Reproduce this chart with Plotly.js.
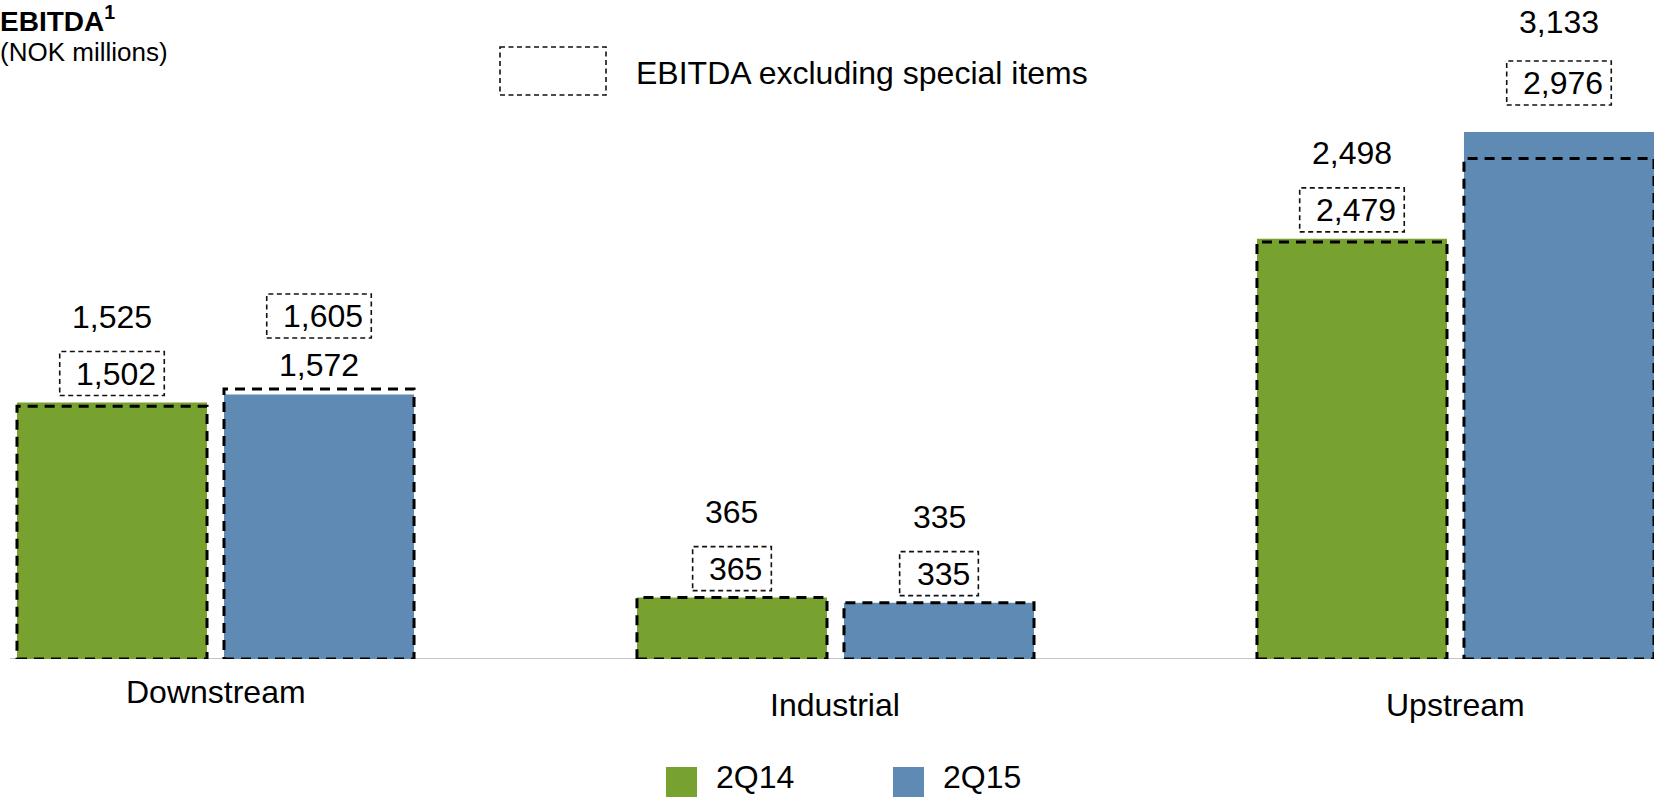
<!DOCTYPE html>
<html>
<head>
<meta charset="utf-8">
<script src="https://cdn.plot.ly/plotly-3.0.1.min.js"></script>
<style>html,body{margin:0;padding:0;background:#fff;}#chart{width:1654px;height:797px;}</style>
</head>
<body>
<div id="chart"></div>
<script>
// ---- data ----
const categories = ['Downstream', 'Industrial', 'Upstream'];
const seriesNames = ['2Q14', '2Q15'];
const ebitda2Q14 = [1525, 365, 2498];
const ebitda2Q15 = [1572, 335, 3133];
const exSpecial2Q14 = [1502, 365, 2479];
const exSpecial2Q15 = [1605, 335, 2976];
const titleText = 'EBITDA';
const subtitleText = '(NOK millions)';
const dashedLegendText = 'EBITDA excluding special items';

// ---- style ----
const FONT = '"Liberation Sans", Arial, Helvetica, sans-serif';
const colors = ['#78A22F', '#5E8AB4'];
const W = 1654, H = 797, PB = 659; // plot bottom in px
const barWidth = 0.3065;
const offsets = [-0.3202, 0.0137];
const catLabelDrop = [33, 46, 46];
const labelLift = [[0, 0, 0], [0, 0, -20]]; // manual label nudges (px)
const fs = 32;

const py = p => (PB - p) / PB;   // pixel y -> paper y
const px = p => p / W;           // pixel x -> paper x
const fmt = v => v.toLocaleString('en-US');
const textEm = s => s.split('').reduce((a, c) => a + (c === ',' ? 0.278 : 0.556), 0);

const ebitda = [ebitda2Q14, ebitda2Q15];
const exSpecial = [exSpecial2Q14, exSpecial2Q15];

const traces = seriesNames.map((name, s) => ({
  type: 'bar', name: name, x: categories, y: ebitda[s],
  width: barWidth, offset: offsets[s],
  marker: {color: colors[s], line: {width: 0}},
  hovertemplate: '%{x}<br>' + name + ': %{y:,}<extra></extra>'
}));

const shapes = [];
const annotations = [];

// baseline
shapes.push({type: 'line', xref: 'paper', yref: 'y', x0: px(10), x1: 1, y0: 0, y1: 0,
  line: {color: '#8c8c8c', width: 1.2}, layer: 'below'});

seriesNames.forEach((name, s) => {
  categories.forEach((cat, i) => {
    const v = ebitda[s][i], e = exSpecial[s][i];
    const x0 = i + offsets[s], x1 = x0 + barWidth, xc = (x0 + x1) / 2;
    // dashed outline for excl. special items
    shapes.push({type: 'rect', xref: 'x', yref: 'y', x0: x0, x1: x1, y0: 0, y1: e,
      line: {color: '#000', width: 3, dash: '10px,7px'}, fillcolor: 'rgba(0,0,0,0)', layer: 'above'});
    const top = Math.max(v, e);
    const nearIsBox = e <= v;
    const nearShift = nearIsBox ? 29 : 24;
    const farShift = nearIsBox ? 86 : 73;
    const lift = -labelLift[s][i];
    const boxShift = (nearIsBox ? nearShift : farShift) + lift;
    const txtShift = (nearIsBox ? farShift : nearShift) + lift + (s === 1 && i === 2 ? 4 : 0);
    // plain EBITDA label
    annotations.push({xref: 'x', yref: 'y', x: xc, y: top, yshift: txtShift, yanchor: 'middle', xanchor: 'center',
      text: fmt(v), showarrow: false, font: {family: FONT, size: fs, color: '#000'}});
    // boxed excl special label
    const bt = fmt(e);
    const bw = textEm(bt) * 31 + 27;
    annotations.push({xref: 'x', yref: 'y', x: xc, y: top, yshift: boxShift, xshift: 4, yanchor: 'middle', xanchor: 'center',
      text: bt, showarrow: false, font: {family: FONT, size: fs, color: '#000'}});
    shapes.push({type: 'rect', xref: 'x', yref: 'y', xsizemode: 'pixel', ysizemode: 'pixel',
      xanchor: xc, yanchor: top, x0: -bw / 2, x1: bw / 2, y0: boxShift - 22, y1: boxShift + 22,
      line: {color: '#111', width: 1.6, dash: '5px,3.5px'}, fillcolor: 'rgba(0,0,0,0)'});
  });
});

// category labels
categories.forEach((cat, i) => {
  annotations.push({xref: 'x', yref: 'paper', x: i, y: 0, yshift: -catLabelDrop[i], yanchor: 'middle',
    text: cat, showarrow: false, font: {family: FONT, size: fs, color: '#000'}});
});

// title + subtitle
annotations.push({xref: 'paper', yref: 'paper', x: 0, y: py(-1), xanchor: 'left', yanchor: 'top', xshift: -2,
  text: '<b>' + titleText + '<sup>1</sup></b>', showarrow: false, font: {family: FONT, size: 28, color: '#000'}});
annotations.push({xref: 'paper', yref: 'paper', x: 0, y: py(52), xanchor: 'left', yanchor: 'middle', xshift: -2,
  text: subtitleText, showarrow: false, font: {family: FONT, size: 26, color: '#000'}});

// dashed legend
shapes.push({type: 'rect', xref: 'paper', yref: 'paper', x0: px(500), x1: px(606), y0: py(47), y1: py(95),
  line: {color: '#111', width: 1.6, dash: '5px,3.5px'}, fillcolor: 'rgba(0,0,0,0)'});
annotations.push({xref: 'paper', yref: 'paper', x: px(634), y: py(73), xanchor: 'left', yanchor: 'middle',
  text: dashedLegendText, showarrow: false, font: {family: FONT, size: fs, color: '#000'}});

// series legend
const legX = [666, 893];
seriesNames.forEach((name, s) => {
  shapes.push({type: 'rect', xref: 'paper', yref: 'paper', x0: px(legX[s]), x1: px(legX[s] + 31),
    y0: py(767), y1: py(797), line: {width: 0}, fillcolor: colors[s]});
  annotations.push({xref: 'paper', yref: 'paper', x: px(legX[s] + 48), y: py(797), xanchor: 'left', yanchor: 'bottom',
    text: name, showarrow: false, font: {family: FONT, size: fs, color: '#000'}});
});

const layout = {
  width: W, height: H,
  margin: {l: 0, r: 0, t: 0, b: H - PB, pad: 0},
  paper_bgcolor: '#fff', plot_bgcolor: '#fff',
  showlegend: false,
  barmode: 'group',
  xaxis: {type: 'category', range: [-0.3476, 2.3202], showgrid: false, zeroline: false, showline: false,
    showticklabels: false, ticks: '', fixedrange: true},
  yaxis: {range: [0, 3918], visible: false, showgrid: false, zeroline: false, fixedrange: true},
  shapes: shapes,
  annotations: annotations,
  font: {family: FONT, color: '#000'}
};

Plotly.newPlot('chart', traces, layout, {displayModeBar: false, responsive: false});
</script>
</body>
</html>
